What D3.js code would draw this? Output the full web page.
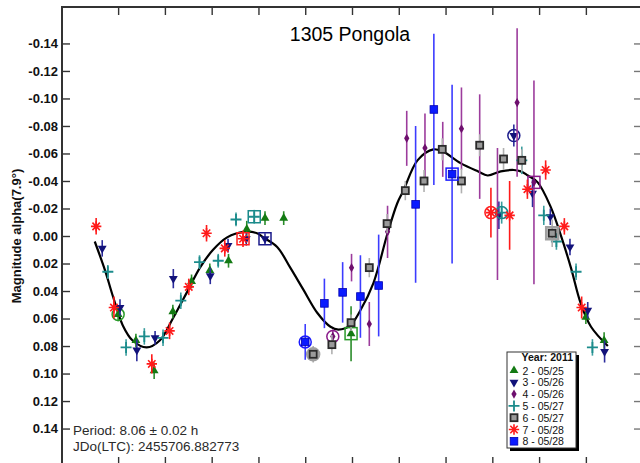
<!DOCTYPE html>
<html>
<head>
<meta charset="utf-8">
<script src="https://cdn.jsdelivr.net/npm/d3@7"></script>
<style>
  html, body { margin: 0; padding: 0; background: #fff; }
  svg { display: block; }
  text { font-family: "Liberation Sans", Arial, Helvetica, sans-serif; }
</style>
</head>
<body>
<svg id="chart" width="640" height="463"></svg>
<script>
// ---- axis ticks ----
const yTicks = [-0.14, -0.12, -0.10, -0.08, -0.06, -0.04, -0.02, 0.00, 0.02, 0.04, 0.06, 0.08, 0.10, 0.12, 0.14];
const yTickLabels = ["-0.14", "-0.12", "-0.10", "-0.08", "-0.06", "-0.04", "-0.02", "0.00", "0.02", "0.04", "0.06", "0.08", "0.10", "0.12", "0.14"];
const xTicks = [0.0, 0.1, 0.2, 0.3, 0.4, 0.5, 0.6, 0.7, 0.8, 0.9, 1.0];

// ---- sessions: [phase, magnitude, error] ----
const s2 = [
  [0.000, 0.057, 0.005], [0.038, 0.076, 0.005], [0.077, 0.098, 0.006], [0.117, 0.055, 0.005],
  [0.157, 0.033, 0.005], [0.196, 0.025, 0.005], [0.236, 0.018, 0.005], [0.275, -0.005, 0.006],
  [0.314, -0.013, 0.005], [0.354, -0.013, 0.005], [0.498, 0.071, 0.020], [1.000, 0.059, 0.005],
  [1.039, 0.076, 0.006]
];
const s3 = [
  [-0.034, 0.009, 0.006], [0.004, 0.052, 0.006], [0.040, 0.083, 0.008], [0.079, 0.074, 0.005],
  [0.118, 0.031, 0.007], [0.197, 0.029, 0.006], [0.235, 0.007, 0.005], [0.274, 0.002, 0.005],
  [0.314, 0.002, 0.004], [0.814, -0.015, 0.010], [0.846, -0.073, 0.008], [0.886, -0.031, 0.010],
  [0.924, -0.014, 0.006], [0.966, 0.008, 0.006], [1.004, 0.054, 0.006], [1.040, 0.084, 0.008]
];
const s4 = [
  [0.459, 0.073, 0.005], [0.499, 0.023, 0.010], [0.537, 0.064, 0.016], [0.576, -0.003, 0.019],
  [0.617, -0.071, 0.020], [0.656, -0.064, 0.025], [0.694, -0.063, 0.020], [0.734, -0.078, 0.030],
  [0.773, -0.065, 0.038], [0.811, -0.016, 0.048], [0.853, -0.097, 0.054], [0.889, -0.039, 0.074]
];
const s5 = [
  [-0.022, 0.026, 0.005], [0.017, 0.081, 0.006], [0.056, 0.073, 0.006], [0.096, 0.074, 0.006],
  [0.134, 0.047, 0.006], [0.174, 0.019, 0.005], [0.214, 0.018, 0.005], [0.252, -0.012, 0.005],
  [0.291, -0.014, 0.005], [0.820, -0.017, 0.008], [0.863, -0.055, 0.010], [0.910, -0.015, 0.007],
  [0.937, 0.004, 0.006], [0.979, 0.026, 0.006], [1.014, 0.081, 0.006]
];
const s6 = [
  [0.417, 0.086, 0.006], [0.457, 0.079, 0.007], [0.498, 0.063, 0.006], [0.537, 0.023, 0.007],
  [0.575, -0.009, 0.007], [0.614, -0.033, 0.007], [0.654, -0.040, 0.008], [0.693, -0.063, 0.008],
  [0.734, -0.040, 0.009], [0.773, -0.066, 0.008], [0.824, -0.056, 0.008], [0.863, -0.055, 0.008],
  [0.928, -0.002, 0.010]
];
const s7 = [
  [-0.047, -0.007, 0.006], [-0.009, 0.052, 0.008], [0.072, 0.093, 0.007], [0.110, 0.069, 0.006],
  [0.151, 0.037, 0.006], [0.189, -0.002, 0.006], [0.228, 0.009, 0.006], [0.267, 0.002, 0.006],
  [0.797, -0.017, 0.018], [0.837, -0.015, 0.025], [0.875, -0.034, 0.007], [0.914, -0.048, 0.007],
  [0.954, -0.007, 0.006], [0.991, 0.052, 0.008]
];
const s8 = [
  [0.400, 0.077, 0.013], [0.441, 0.049, 0.018], [0.480, 0.041, 0.022], [0.518, 0.044, 0.030],
  [0.557, 0.036, 0.037], [0.636, -0.023, 0.057], [0.675, -0.092, 0.055], [0.714, -0.045, 0.065]
];
const sessionLabels = ["2 - 05/25", "3 - 05/26", "4 - 05/26", "5 - 05/27", "6 - 05/27", "7 - 05/28", "8 - 05/28"];
// index of the point marked with a circle / a square in each session
const circleIdx = [0, 10, 0, 9, 0, 8, 0];
const squareIdx = [10, 8, 11, 8, 12, 7, 7];

// ---- Fourier fit, sampled [phase, magnitude] ----
const fitCurve = [
  [-0.050, 0.004], [-0.028, 0.025], [-0.011, 0.044], [0.010, 0.065], [0.031, 0.076], [0.061, 0.081],
  [0.089, 0.076], [0.117, 0.060], [0.147, 0.041], [0.175, 0.023], [0.203, 0.010], [0.233, 0.001],
  [0.269, -0.003], [0.297, -0.002], [0.310, 0.001], [0.340, 0.008], [0.368, 0.023], [0.396, 0.039],
  [0.426, 0.056], [0.454, 0.066], [0.471, 0.068], [0.496, 0.065], [0.518, 0.054], [0.546, 0.034],
  [0.576, -0.002], [0.597, -0.024], [0.610, -0.033], [0.640, -0.055], [0.674, -0.063], [0.696, -0.061],
  [0.732, -0.053], [0.769, -0.047], [0.790, -0.044], [0.818, -0.047], [0.846, -0.048], [0.861, -0.047],
  [0.876, -0.044], [0.897, -0.039], [0.925, -0.021], [0.946, -0.001], [0.968, 0.023], [0.989, 0.049],
  [1.011, 0.066], [1.047, 0.080]
];

const periodText = "Period: 8.06 \u00B1 0.02 h";
const epochText = "JDo(LTC): 2455706.882773";
const titleText = "1305 Pongola";
const yLabelText = "Magnitude alpha(7.9\u00B0)";
const legendTitle = "Year: 2011";

// ---- drawing ----
const svg = d3.select("#chart");
const plot = { left: 62, top: 7, right: 642, bottom: 465 };
const x = d3.scaleLinear().domain([-0.12, 1.12]).range([plot.left, plot.right]);
const y = d3.scaleLinear().domain([-0.1665, 0.1665]).range([plot.top, plot.bottom]);

svg.append("rect").attr("width", 640).attr("height", 463).attr("fill", "#fff");

// marker styles per session
const styles = [
  { kind: "triUp",   color: "#137a13", bar: "#2a8c2a", ring: "#2a9a2a" },
  { kind: "triDown", color: "#12127a", bar: "#2c2c9c", ring: "#1a1a8a" },
  { kind: "diamond", color: "#6e0f6e", bar: "#9c3c9c", ring: "#8a1a8a" },
  { kind: "plus",    color: "#1c8c8c", bar: "#3a9e9e", ring: "#1a8a8a" },
  { kind: "gsquare", color: "#8c8c8c", bar: "#b0b0b0", ring: "#a0a0a0" },
  { kind: "star",    color: "#ff1a1a", bar: "#ff1a1a", ring: "#ff2020" },
  { kind: "bsquare", color: "#0a1aff", bar: "#3c3cff", ring: "#1a1aff" }
];
const sessions = [s2, s3, s4, s5, s6, s7, s8];

// eight-spoked asterisk
const starPath = "M0,-5.2V5.2M-5.2,0H5.2M-3.7,-3.7L3.7,3.7M-3.7,3.7L3.7,-3.7";

function drawMarker(g, kind, color) {
  switch (kind) {
    case "triUp":
      g.append("path").attr("d", d3.symbol().type(d3.symbolTriangle).size(34)()).attr("fill", color);
      break;
    case "triDown":
      g.append("path").attr("d", d3.symbol().type(d3.symbolTriangle).size(34)())
        .attr("transform", "rotate(180)").attr("fill", color);
      break;
    case "diamond":
      g.append("path").attr("d", d3.symbol().type(d3.symbolDiamond).size(24)()).attr("fill", color);
      break;
    case "plus":
      g.append("path").attr("d", "M-5.5,0H5.5M0,-5.5V5.5").attr("stroke", color)
        .attr("stroke-width", 1.8).attr("fill", "none");
      break;
    case "gsquare":
      g.append("rect").attr("x", -3.5).attr("y", -3.5).attr("width", 7).attr("height", 7)
        .attr("fill", "#9a9a9a").attr("stroke", "#2a2a2a").attr("stroke-width", 1.8);
      break;
    case "star":
      g.append("path").attr("d", starPath)
        .attr("stroke", color).attr("stroke-width", 1.6).attr("fill", "none");
      break;
    case "bsquare":
      g.append("rect").attr("x", -3.8).attr("y", -3.8).attr("width", 7.6).attr("height", 7.6)
        .attr("fill", color).attr("stroke", "#0000b0").attr("stroke-width", 0.8);
      break;
  }
}

const clipId = "plotclip";
svg.append("clipPath").attr("id", clipId).append("rect")
  .attr("x", plot.left).attr("y", plot.top)
  .attr("width", plot.right - plot.left).attr("height", plot.bottom - plot.top);
const body = svg.append("g").attr("clip-path", `url(#${clipId})`);

// fitted curve
body.append("path")
  .datum(fitCurve)
  .attr("fill", "none")
  .attr("stroke", "#000")
  .attr("stroke-width", 2.2)
  .attr("d", d3.line().x(d => x(d[0])).y(d => y(d[1])).curve(d3.curveCatmullRom));

// error bars, rings and markers
sessions.forEach((pts, si) => {
  const st = styles[si];
  const g = body.append("g");
  g.selectAll("line.err").data(pts).join("line")
    .attr("class", "err")
    .attr("x1", d => x(d[0])).attr("x2", d => x(d[0]))
    .attr("y1", d => y(d[1] - d[2])).attr("y2", d => y(d[1] + d[2]))
    .attr("stroke", st.bar).attr("stroke-width", 1.6);

  const c = pts[circleIdx[si]];
  const s = pts[squareIdx[si]];
  const isGray = st.kind === "gsquare";
  g.append("circle").attr("cx", x(c[0])).attr("cy", y(c[1])).attr("r", 6)
    .attr("fill", isGray ? "#b4b4b4" : "none").attr("stroke", st.ring)
    .attr("stroke-width", isGray ? 2.5 : 1.5);
  g.append("rect").attr("x", x(s[0]) - 6).attr("y", y(s[1]) - 6).attr("width", 12).attr("height", 12)
    .attr("fill", "none").attr("stroke", st.ring).attr("stroke-width", isGray ? 2.5 : 1.5);

  pts.forEach(d => {
    const mg = g.append("g").attr("transform", `translate(${x(d[0])},${y(d[1])})`);
    drawMarker(mg, st.kind, st.color);
  });
});

// axes with inward ticks
const axisColor = "#333";
const axLeft = svg.append("g").attr("transform", `translate(${plot.left},0)`)
  .call(d3.axisLeft(y).tickValues(yTicks).tickFormat((d, i) => yTickLabels[i])
    .tickSizeInner(-8).tickSizeOuter(0).tickPadding(4));
axLeft.selectAll("text").attr("font-size", 13).attr("font-weight", "bold").attr("fill", "#111")
  .attr("font-family", "'Liberation Sans', Arial, sans-serif");
const axRight = svg.append("g").attr("transform", `translate(${plot.right},0)`)
  .call(d3.axisRight(y).tickValues(yTicks).tickFormat("").tickSizeInner(-8).tickSizeOuter(0));
const axTop = svg.append("g").attr("transform", `translate(0,${plot.top})`)
  .call(d3.axisTop(x).tickValues(xTicks).tickFormat("").tickSizeInner(-8).tickSizeOuter(0));
const axBottom = svg.append("g").attr("transform", `translate(0,${plot.bottom})`)
  .call(d3.axisBottom(x).tickValues(xTicks).tickFormat("").tickSizeInner(-8).tickSizeOuter(0));
[axLeft, axRight, axTop, axBottom].forEach(a => {
  a.select(".domain").remove();
  a.selectAll("line").attr("stroke", axisColor).attr("stroke-width", 1.4);
});
axRight.selectAll("line").attr("stroke", "#777");

svg.append("rect")
  .attr("x", plot.left).attr("y", plot.top)
  .attr("width", plot.right - plot.left).attr("height", plot.bottom - plot.top)
  .attr("fill", "none").attr("stroke", axisColor).attr("stroke-width", 2);

// title and labels
svg.append("text").attr("x", 350).attr("y", 40.5).attr("text-anchor", "middle")
  .attr("font-size", 19.5).attr("fill", "#000").text(titleText);

svg.append("text").attr("transform", `translate(21,236) rotate(-90)`)
  .attr("text-anchor", "middle").attr("font-size", 13).attr("font-weight", "bold")
  .attr("fill", "#111").text(yLabelText);

svg.append("text").attr("x", 73).attr("y", 435).attr("font-size", 13.5).attr("fill", "#2a2a2a").text(periodText);
svg.append("text").attr("x", 73).attr("y", 450.5).attr("font-size", 13.5).attr("fill", "#2a2a2a").text(epochText);

// legend
const lg = svg.append("g");
lg.append("rect").attr("x", 510).attr("y", 355).attr("width", 69).attr("height", 96).attr("fill", "#000");
lg.append("rect").attr("x", 507).attr("y", 352).attr("width", 69).attr("height", 96)
  .attr("fill", "#fff").attr("stroke", "#333").attr("stroke-width", 1);
lg.append("text").attr("x", 573).attr("y", 361).attr("text-anchor", "end")
  .attr("font-size", 10.5).attr("font-weight", "bold").attr("fill", "#111").text(legendTitle);
sessionLabels.forEach((lab, i) => {
  const cy = 370.5 + i * 11.8;
  const mg = lg.append("g").attr("transform", `translate(514,${cy})`);
  drawMarker(mg, styles[i].kind, styles[i].color);
  lg.append("text").attr("x", 522.5).attr("y", cy + 4).attr("font-size", 10.5)
    .attr("fill", "#111").text(lab);
});
</script>
</body>
</html>
